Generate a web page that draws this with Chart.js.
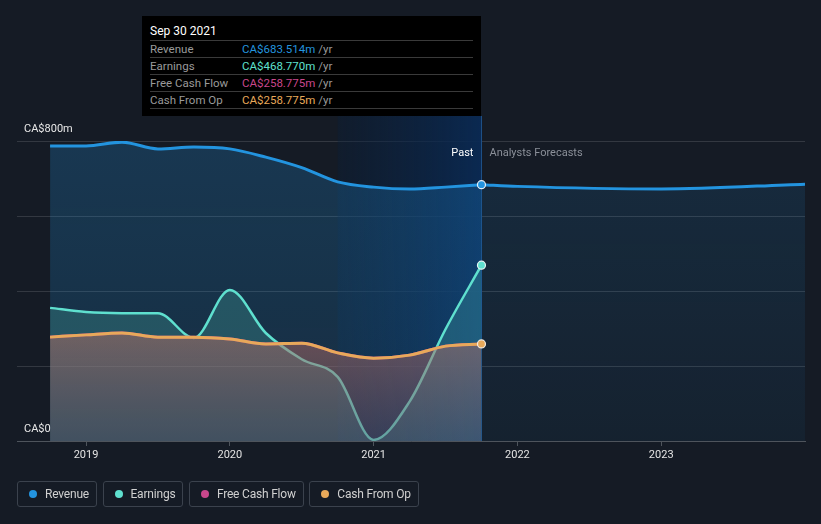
<!DOCTYPE html>
<html>
<head>
<meta charset="utf-8">
<script src="https://cdn.jsdelivr.net/npm/chart.js@4.4.0/dist/chart.umd.min.js"></script>
<style>
  html, body { margin:0; padding:0; background:#151b25; }
  body { width:821px; height:524px; position:relative; overflow:hidden; font-family: Roboto, "Noto Sans", sans-serif; }
  #c { position:absolute; left:0; top:0; }
  .tt { position:absolute; left:142px; top:16px; width:339px; height:100px; background:#000; box-sizing:border-box; padding:0 8px; }
  .tt .title { color:#fff; font-size:12px; height:24px; line-height:31px; border-bottom:1px solid #3a3a3a; }
  .tt .row { font-size:11.5px; height:16px; line-height:17px; border-bottom:1px solid #3a3a3a; color:#9a9a9a; position:relative; }
  .tt .row .v { position:absolute; left:92px; }
  .tt .row .u { color:#9a9a9a; }
  .legend { position:absolute; top:481px; left:17px; display:flex; }
  .legend .item { height:26px; box-sizing:border-box; border:1px solid #3b424d; border-radius:3px; color:#d0d0d0; font-size:12px; letter-spacing:-0.2px; line-height:24px; padding:0 7px 0 27px; margin-right:5.5px; position:relative; }
  .legend .dot { position:absolute; left:11px; top:8px; width:8px; height:8px; border-radius:50%; }
</style>
</head>
<body>
<canvas id="c" width="821" height="524"></canvas>
<div class="tt" id="tt"></div>
<div class="legend" id="legend"></div>
<script>
// ---- data (CA$ millions), quarter ends as decimal years ----
const pastDates = [2018.75, 2019.0, 2019.25, 2019.5, 2019.75, 2020.0, 2020.25, 2020.5, 2020.75, 2021.0, 2021.25, 2021.5, 2021.75];
const revenue   = [787, 787, 797, 779, 784, 779, 757, 729, 691, 677, 672, 677, 683.514];
const earnings  = [355, 344, 341, 341, 275, 403, 288, 218, 171, 3, 105, 298, 468.770];
const freeCashFlow = [277, 283, 288, 277, 277, 272, 259, 261, 235, 221, 229, 253, 258.775];
const cashFromOp   = [277, 283, 288, 277, 277, 272, 259, 261, 235, 221, 229, 253, 258.775];
const forecastDates   = [2021.75, 2022.0, 2023.0, 2024.0];
const forecastRevenue = [683.514, 679, 672, 685];
const xTicks = [2019, 2020, 2021, 2022, 2023];
const yTicks = [0, 200, 400, 600, 800];
const yLabels = {0: 'CA$0', 800: 'CA$800m'};
const seriesNames = ['Revenue', 'Earnings', 'Free Cash Flow', 'Cash From Op'];
const seriesColors = ['#2394df', '#5fe0cf', '#c9478c', '#e8a95a'];
const tooltipTitle = 'Sep 30 2021';
const tooltipValues = ['CA$683.514m', 'CA$468.770m', 'CA$258.775m', 'CA$258.775m'];
const highlightStart = 2020.75, highlightEnd = 2021.75;

const pts = (xs, ys) => xs.map((x, i) => ({x, y: ys[i]}));
const lastIdx = pastDates.length - 1;
const markR = c => (c.dataIndex === lastIdx ? 4 : 0);

function vGrad(ctx, stops, v0, v1) {
  const ch = ctx.chart; const a = ch.chartArea;
  if (!a) return stops[0];
  const ys = ch.scales.y;
  const g = ch.ctx.createLinearGradient(0, ys.getPixelForValue(v0), 0, ys.getPixelForValue(v1));
  g.addColorStop(0, stops[0]); g.addColorStop(1, stops[1]);
  return g;
}

const bandPlugin = {
  id: 'band',
  beforeDatasetsDraw(chart) {
    const {ctx, chartArea: a, scales: {x}} = chart;
    const x0 = x.getPixelForValue(highlightStart), x1 = x.getPixelForValue(highlightEnd);
    const g = ctx.createLinearGradient(x0, 0, x1, 0);
    g.addColorStop(0, 'rgba(10,32,60,0.35)');
    g.addColorStop(1, 'rgba(10,42,84,0.95)');
    ctx.save();
    ctx.fillStyle = g;
    ctx.fillRect(x0, 116, x1 - x0, a.bottom - 116);
    ctx.strokeStyle = '#1d4f86';
    ctx.lineWidth = 1;
    ctx.beginPath(); ctx.moveTo(Math.round(x1) + 0.5, 116); ctx.lineTo(Math.round(x1) + 0.5, a.bottom); ctx.stroke();
    ctx.restore();
  },
  afterDatasetsDraw(chart) {
    const {ctx, scales: {x, y}} = chart;
    const x1 = x.getPixelForValue(highlightEnd);
    ctx.save();
    ctx.font = '11px Roboto, "Noto Sans", sans-serif';
    ctx.textBaseline = 'middle';
    ctx.textAlign = 'right';
    ctx.fillStyle = '#ffffff';
    ctx.fillText('Past', x1 - 8, 153);
    ctx.textAlign = 'left';
    ctx.fillStyle = '#8b9099';
    ctx.fillText('Analysts Forecasts', x1 + 8, 153);
    ctx.fillStyle = '#e8e8e8';
    Object.keys(yLabels).forEach(v => {
      ctx.fillText(yLabels[v], 24, y.getPixelForValue(+v) - 12);
    });
    ctx.restore();
  }
};

new Chart(document.getElementById('c'), {
  type: 'line',
  data: {
    datasets: [
      { label: 'Revenue', data: pts(pastDates, revenue), borderColor: seriesColors[0], borderWidth: 3,
        fill: 'origin', backgroundColor: c => vGrad(c, ['rgba(35,148,223,0.24)', 'rgba(35,148,223,0.16)'], 800, 0),
        pointRadius: markR, pointBackgroundColor: seriesColors[0], pointBorderColor: '#e6eef5', pointBorderWidth: 1.2, order: 5 },
      { label: 'Revenue forecast', data: pts(forecastDates, forecastRevenue), borderColor: seriesColors[0], borderWidth: 3,
        fill: 'origin', backgroundColor: c => vGrad(c, ['rgba(35,148,223,0.13)', 'rgba(35,148,223,0.06)'], 700, 0),
        pointRadius: 0, order: 6 },
      { label: 'Earnings', data: pts(pastDates, earnings), borderColor: seriesColors[1], borderWidth: 2.5,
        fill: 'origin', backgroundColor: 'rgba(95,224,207,0.2)',
        pointRadius: markR, pointBackgroundColor: seriesColors[1], pointBorderColor: '#e6f5f3', pointBorderWidth: 1.2, order: 4 },
      { label: 'Free Cash Flow', data: pts(pastDates, freeCashFlow), borderColor: seriesColors[2], borderWidth: 3,
        fill: false, pointRadius: 0, order: 3 },
      { label: 'Cash From Op', data: pts(pastDates, cashFromOp), borderColor: seriesColors[3], borderWidth: 3,
        fill: 'origin', backgroundColor: c => vGrad(c, ['rgba(182,110,100,0.52)', 'rgba(105,80,100,0.42)'], 290, 0),
        pointRadius: markR, pointBackgroundColor: seriesColors[3], pointBorderColor: '#f3ebe0', pointBorderWidth: 1.2, order: 2 }
    ]
  },
  options: {
    responsive: false,
    animation: false,
    events: [],
    layout: { padding: { left: 17, right: 16, top: 141, bottom: 53 } },
    elements: { line: { cubicInterpolationMode: 'monotone' } },
    plugins: { legend: { display: false }, tooltip: { enabled: false } },
    scales: {
      x: {
        type: 'linear', min: 2018.52, max: 2024.0,
        afterBuildTicks: s => { s.ticks = xTicks.map(v => ({value: v})); },
        afterFit: s => { s.height = 30; },
        ticks: { color: '#e4e4e4', font: { family: 'Roboto', size: 11 }, padding: 3, maxRotation: 0, callback: v => String(v) },
        grid: { drawOnChartArea: false, drawTicks: true, tickLength: 5, color: '#4e545c' },
        border: { display: true, color: '#4e545c' }
      },
      y: {
        min: 0, max: 800,
        afterBuildTicks: s => { s.ticks = yTicks.map(v => ({value: v})); },
        afterFit: s => { s.width = 0; },
        ticks: { display: false },
        grid: { color: 'rgba(255,255,255,0.13)', drawTicks: false },
        border: { display: false }
      }
    }
  },
  plugins: [bandPlugin]
});

// tooltip
const tt = document.getElementById('tt');
let html = '<div class="title">' + tooltipTitle + '</div>';
seriesNames.forEach((n, i) => {
  html += '<div class="row">' + n + '<span class="v"><span style="color:' + seriesColors[i] + '">' + tooltipValues[i] + '</span> <span class="u">/yr</span></span></div>';
});
tt.innerHTML = html;

// legend
const lg = document.getElementById('legend');
seriesNames.forEach((n, i) => {
  const d = document.createElement('div'); d.className = 'item';
  d.innerHTML = '<span class="dot" style="background:' + seriesColors[i] + '"></span>' + n;
  lg.appendChild(d);
});
</script>
</body>
</html>
